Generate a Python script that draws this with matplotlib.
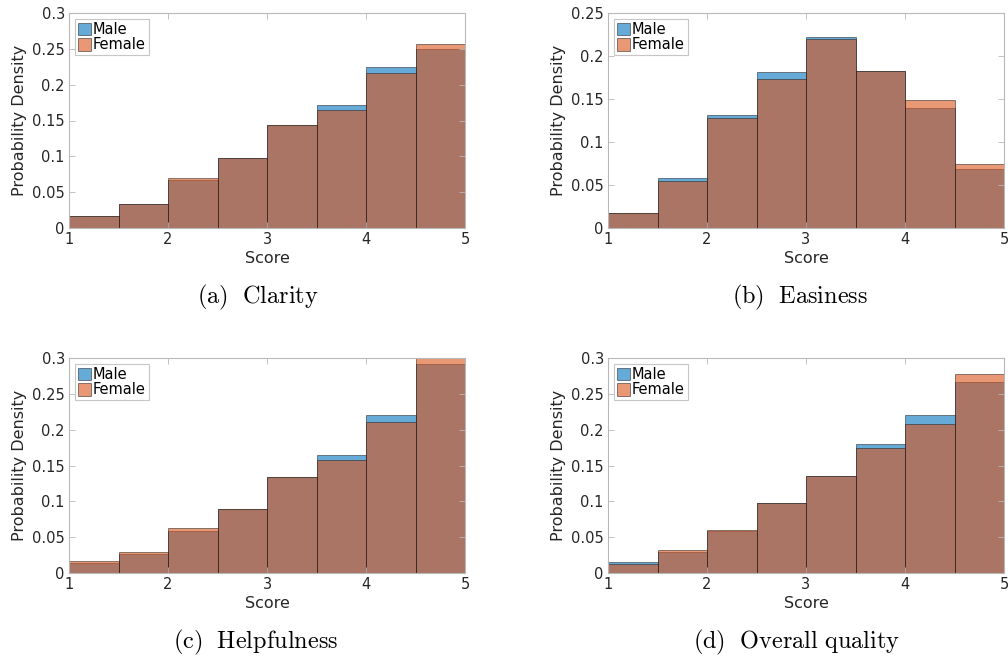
import matplotlib

matplotlib.use("Agg")
import matplotlib.pyplot as plt
from matplotlib.ticker import FuncFormatter

# bin edges shared by all four panels
bin_edges = [1.0, 1.5, 2.0, 2.5, 3.0, 3.5, 4.0, 4.5, 5.0]

# probability per bin
clarity_male = [0.017, 0.034, 0.067, 0.098, 0.144, 0.171, 0.224, 0.250]
clarity_female = [0.017, 0.034, 0.070, 0.098, 0.144, 0.165, 0.216, 0.257]

easiness_male = [0.018, 0.0585, 0.131, 0.181, 0.2225, 0.182, 0.139, 0.069]
easiness_female = [0.018, 0.0547, 0.128, 0.173, 0.2198, 0.1826, 0.149, 0.074]

helpful_male = [0.014, 0.027, 0.058, 0.089, 0.134, 0.165, 0.221, 0.292]
helpful_female = [0.017, 0.029, 0.0625, 0.089, 0.134, 0.158, 0.211, 0.300]

overall_male = [0.0148, 0.029, 0.058, 0.097, 0.136, 0.180, 0.220, 0.267]
overall_female = [0.013, 0.0317, 0.0596, 0.098, 0.135, 0.174, 0.208, 0.277]

captions = ["(a)\\ \\ Clarity", "(b)\\ \\ Easiness",
            "(c)\\ \\ Helpfulness", "(d)\\ \\ Overall\\ quality"]
ymax = [0.3, 0.25, 0.3, 0.3]
panels = [(clarity_male, clarity_female), (easiness_male, easiness_female),
          (helpful_male, helpful_female), (overall_male, overall_female)]

MALE = (0.0, 0.447, 0.741)
FEMALE = (0.85, 0.325, 0.098)
EDGE = (0.1, 0.1, 0.1, 0.55)
FRAME = "#b8b8b8"
TEXT = "#262626"

plt.rcParams["mathtext.fontset"] = "cm"

W, H = 1008, 659
fig = plt.figure(figsize=(W / 100, H / 100), dpi=100)

# axes boxes in pixels: left, top, right, bottom
boxes = [(69, 13, 465, 228), (608, 13, 1004, 228),
         (69, 358, 465, 573), (608, 358, 1004, 573)]
caption_pos = [(258, 297), (800, 297), (256, 642), (797, 642)]


def fmt(v, _):
    return f"{v:g}"


for i, (box, (male, female)) in enumerate(zip(boxes, panels)):
    l, t, r, b = box
    ax = fig.add_axes([l / W, 1 - b / H, (r - l) / W, (b - t) / H])
    lefts = bin_edges[:-1]
    ax.bar(lefts, male, width=0.5, align="edge", color=MALE, alpha=0.6,
           edgecolor=EDGE, linewidth=0.6, label="Male")
    ax.bar(lefts, female, width=0.5, align="edge", color=FEMALE, alpha=0.6,
           edgecolor=EDGE, linewidth=0.6, label="Female")
    ax.set_xlim(1, 5)
    ax.set_ylim(0, ymax[i])
    ax.set_xticks([1, 2, 3, 4, 5])
    ax.set_yticks([k * 0.05 for k in range(int(round(ymax[i] / 0.05)) + 1)])
    ax.yaxis.set_major_formatter(FuncFormatter(fmt))
    ax.tick_params(direction="in", top=True, right=True, length=4,
                   width=0.6, color=FRAME, labelsize=10.5, labelcolor=TEXT,
                   pad=3)
    for s in ax.spines.values():
        s.set_color(FRAME)
        s.set_linewidth(0.8)
    ax.set_xlabel("Score", fontsize=11.5, color=TEXT, labelpad=3)
    ax.set_ylabel("Probability Density", fontsize=11.5, color=TEXT, labelpad=4)
    leg = ax.legend(loc="upper left", fontsize=10.5, frameon=True, fancybox=False,
                    handlelength=0.9, handleheight=0.9, handletextpad=0.15,
                    borderpad=0.2, labelspacing=0.05, borderaxespad=0.4)
    leg.get_frame().set_edgecolor(FRAME)
    leg.get_frame().set_linewidth(0.8)
    cx, cy = caption_pos[i]
    fig.text(cx / W, 1 - cy / H, f"$\\mathrm{{{captions[i]}}}$",
             ha="center", va="center", fontsize=17.5, color="black")

fig.savefig("out.png", dpi=100)
